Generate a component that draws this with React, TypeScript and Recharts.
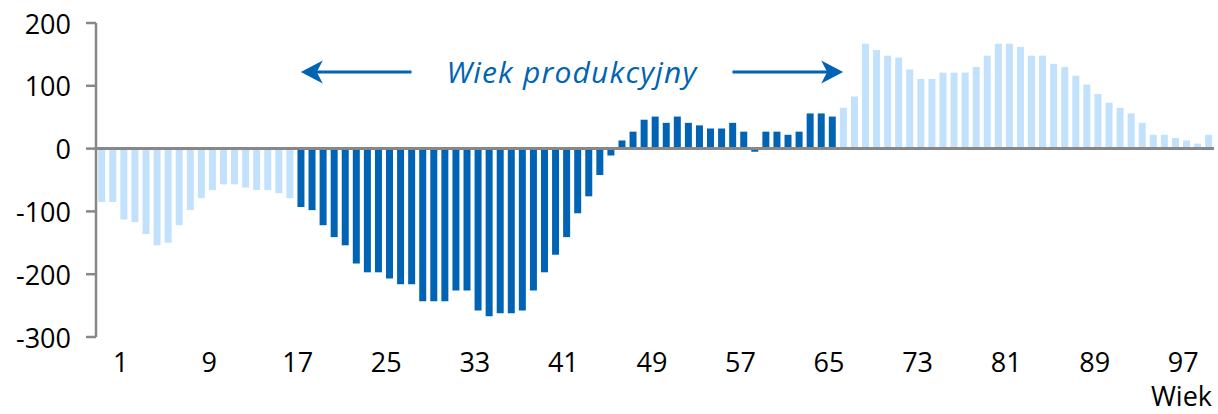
import React from 'react';
import { BarChart, Bar, XAxis, YAxis, Cell, ReferenceLine } from 'recharts';

// Categories: age in years (0..100)
const AGES: number[] = Array.from({ length: 101 }, (_, i) => i);

// Values (one per age)
const SALDO: number[] = [
  -85, -85, -113, -117, -136, -154, -150, -122, -98, -79,
  -66, -57, -57, -62, -66, -66, -71, -79, -93, -98,
  -122, -141, -154, -183, -197, -197, -207, -216, -216, -243,
  -243, -243, -226, -226, -258, -267, -262, -262, -258, -226,
  -197, -169, -141, -103, -76, -42, -11, 13, 27, 46,
  51, 41, 51, 41, 37, 32, 32, 41, 27, -5,
  27, 27, 22, 27, 56, 56, 51, 65, 83, 167,
  157, 148, 145, 126, 111, 111, 121, 121, 121, 130,
  148, 167, 167, 162, 148, 148, 135, 130, 116, 102,
  87, 73, 65, 56, 41, 22, 22, 17, 13, 8,
  22,
];

const WORKING_AGE_FROM = 18;
const WORKING_AGE_TO = 66;

const Y_TICKS = [-300, -200, -100, 0, 100, 200];
const X_TICK_LABELS = [1, 9, 17, 25, 33, 41, 49, 57, 65, 73, 81, 89, 97];
const AXIS_TITLE = 'Wiek';
const ANNOTATION = 'Wiek produkcyjny';
const ARROW_LEVEL = 122;
const LEFT_ARROW: [number, number] = [28, 18];
const RIGHT_ARROW: [number, number] = [57, 67];

const DARK = '#0063B3';
const LIGHT = '#C2E1FD';
const AXIS = '#878787';
const FONT = '"Open Sans", "Liberation Sans", sans-serif';

const data = AGES.map((age, i) => ({ age, value: SALDO[i] }));

const arrowShape = (props: any) => {
  const { x1, y1, x2, y2 } = props;
  const dir = Math.sign(x2 - x1);
  const headLen = 22;
  const headHalf = 11.5;
  const notch = 6;
  const baseX = x2 - dir * headLen;
  return (
    <g>
      <line x1={x1} y1={y1} x2={baseX + dir * notch} y2={y2} stroke={DARK} strokeWidth={3} />
      <polygon
        points={`${x2},${y2} ${baseX},${y2 - headHalf} ${baseX + dir * notch},${y2} ${baseX},${y2 + headHalf}`}
        fill={DARK}
      />
    </g>
  );
};

const textShape = (props: any) => {
  const { x1, y1, x2 } = props;
  return (
    <text
      x={(x1 + x2) / 2}
      y={y1}
      textAnchor="middle"
      dominantBaseline="central"
      fontFamily={FONT}
      fontStyle="italic"
      fontSize={30}
      letterSpacing={1.2}
      fill={DARK}
    >
      {ANNOTATION}
    </text>
  );
};

const XTick = (props: any) => {
  const { x, y, payload } = props;
  if (!X_TICK_LABELS.includes(payload.value)) return null;
  return (
    <text x={x + 8} y={y + 35} textAnchor="middle" fontFamily={FONT} fontSize={27} fill="#000">
      {payload.value}
    </text>
  );
};

const YTick = (props: any) => {
  const { x, y, payload } = props;
  return (
    <text x={x} y={y} textAnchor="end" dominantBaseline="central" fontFamily={FONT} fontSize={27} fill="#000">
      {payload.value}
    </text>
  );
};

export default function App() {
  return (
    <div style={{ position: 'absolute', left: 0, top: 0, width: 1218, height: 414, background: '#fff' }}>
      <BarChart
        width={1218}
        height={414}
        data={data}
        margin={{ top: 23, right: 4, left: 0, bottom: 0 }}
        barCategoryGap="20%"
      >
        <XAxis
          dataKey="age"
          interval={0}
          axisLine={false}
          tickLine={false}
          tickSize={0}
          tickMargin={0}
          height={77}
          tick={<XTick />}
          label={(p: any) => {
            const vb = p.viewBox || {};
            return (
              <text
                x={vb.x + vb.width - 2}
                y={vb.y + 69}
                textAnchor="end"
                fontFamily={FONT}
                fontSize={27}
                fill="#000"
              >
                {AXIS_TITLE}
              </text>
            );
          }}
        />
        <YAxis
          domain={[-300, 200]}
          ticks={Y_TICKS}
          interval={0}
          width={96}
          axisLine={{ stroke: AXIS, strokeWidth: 2.5 }}
          tickLine={{ stroke: AXIS, strokeWidth: 2.5 }}
          tickSize={10}
          tickMargin={15}
          tick={<YTick />}
        />
        <Bar dataKey="value" isAnimationActive={false}>
          {data.map((d) => (
            <Cell
              key={d.age}
              fill={d.age >= WORKING_AGE_FROM && d.age <= WORKING_AGE_TO ? DARK : LIGHT}
            />
          ))}
        </Bar>
        <ReferenceLine y={0} stroke={AXIS} strokeWidth={3} />
        <ReferenceLine
          segment={[{ x: LEFT_ARROW[0], y: ARROW_LEVEL }, { x: LEFT_ARROW[1], y: ARROW_LEVEL }]}
          shape={arrowShape}
        />
        <ReferenceLine
          segment={[{ x: RIGHT_ARROW[0], y: ARROW_LEVEL }, { x: RIGHT_ARROW[1], y: ARROW_LEVEL }]}
          shape={arrowShape}
        />
        <ReferenceLine
          segment={[{ x: LEFT_ARROW[0], y: ARROW_LEVEL }, { x: RIGHT_ARROW[0], y: ARROW_LEVEL }]}
          shape={textShape}
        />
      </BarChart>
    </div>
  );
}
